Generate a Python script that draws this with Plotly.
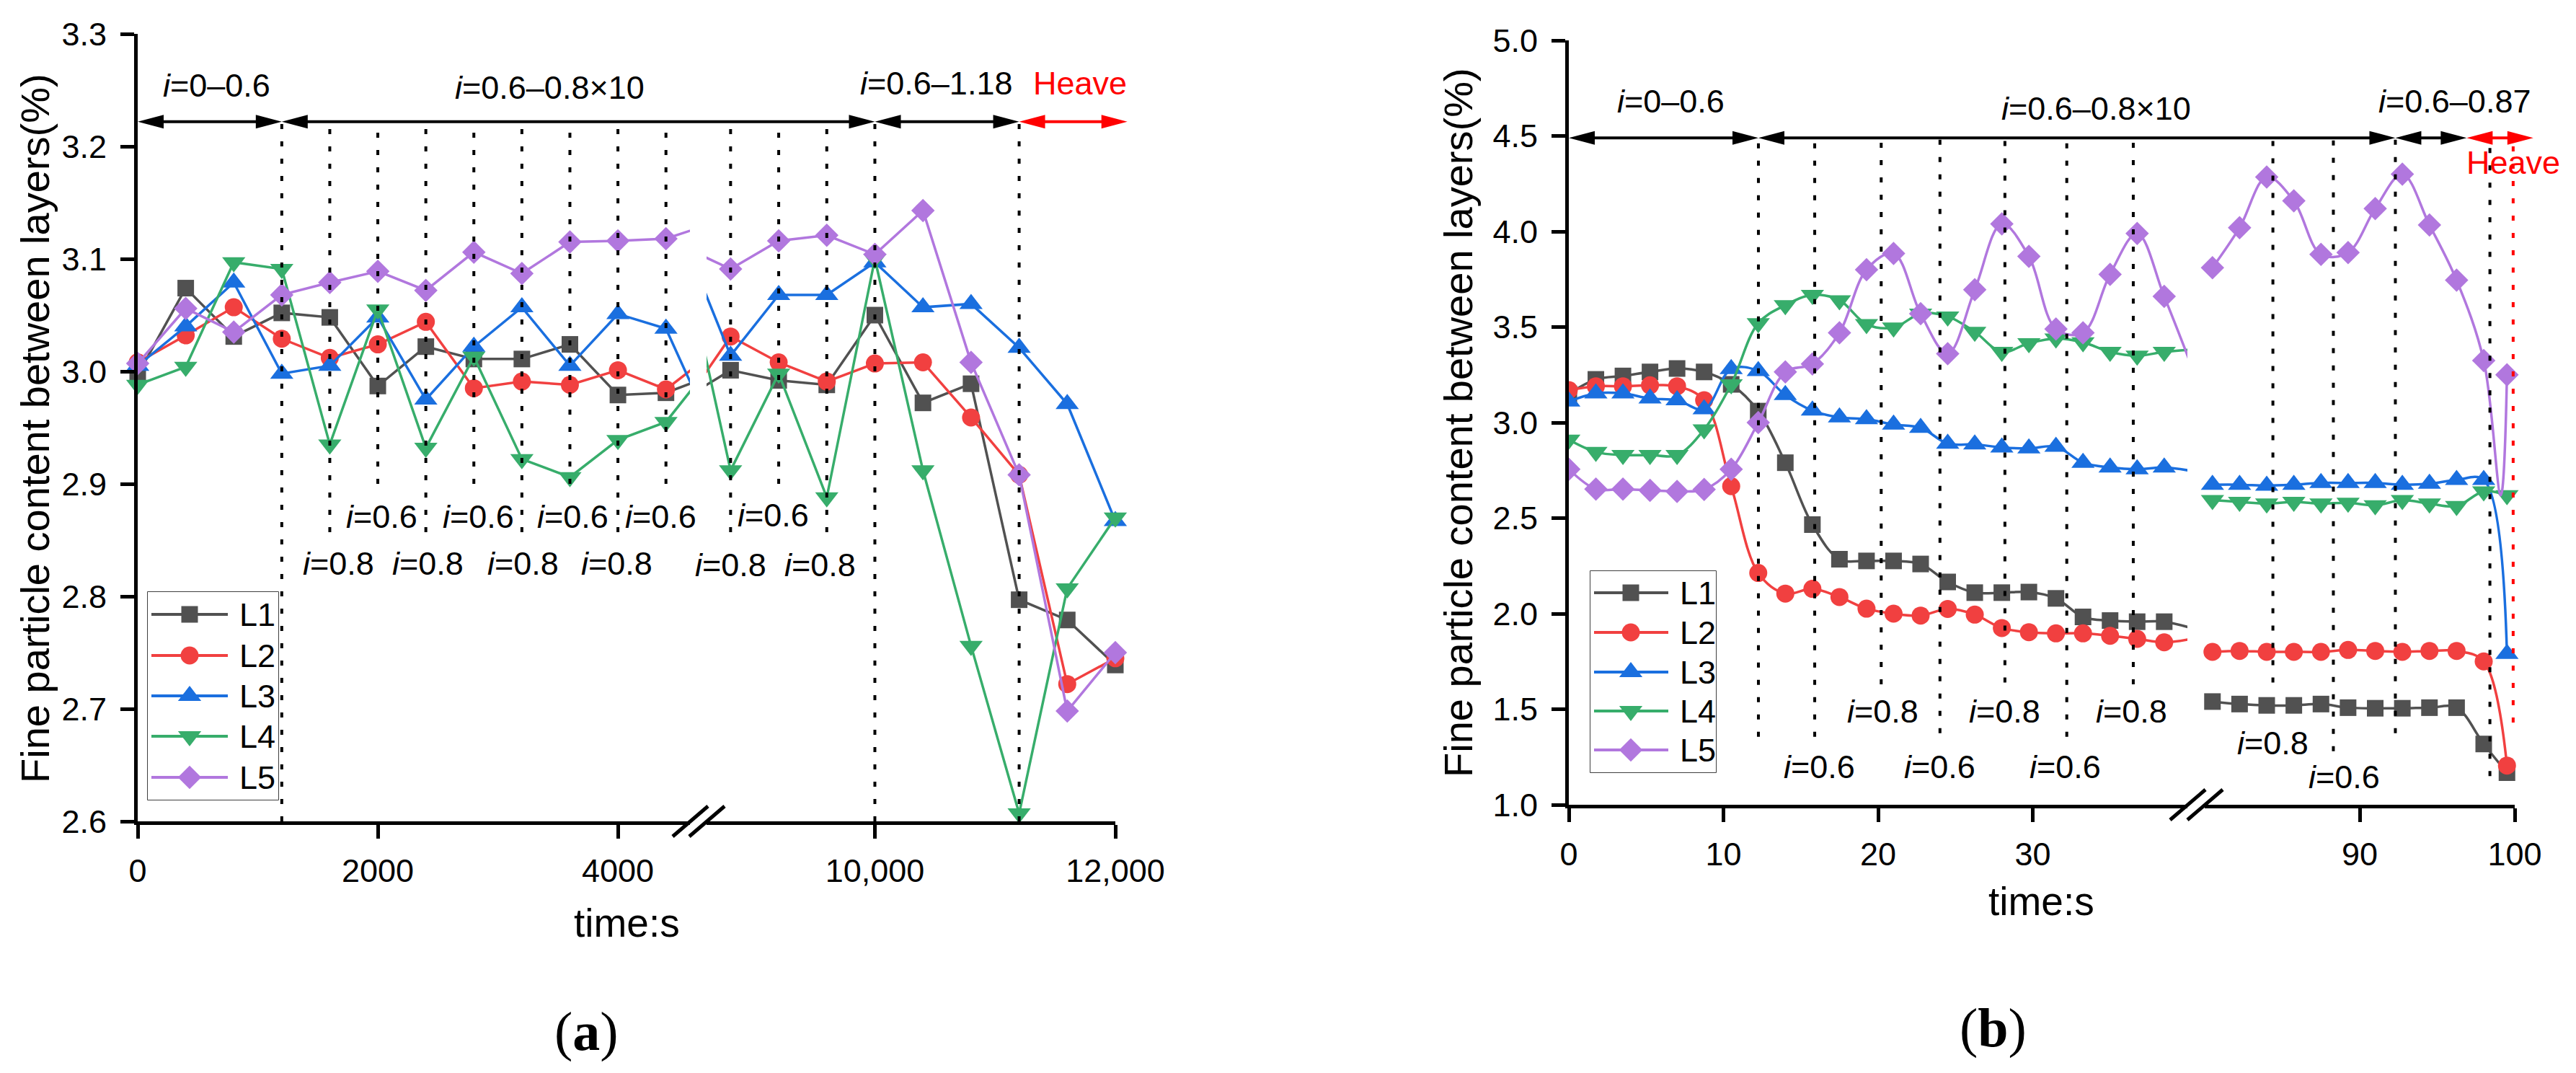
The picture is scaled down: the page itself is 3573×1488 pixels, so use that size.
import plotly.graph_objects as go

W, H = 3573, 1488

# ---------------- panel (a): time in s, broken axis 4600..8600 ----------------
# first/last entries of each segment sit outside the visible range (they only
# give the line stubs running into the axis break)
T_A_LEFT = [0, 400, 800, 1200, 1600, 2000, 2400, 2800, 3200, 3600, 4000, 4400, 4800]
T_A_RIGHT = [8400, 8800, 9200, 9600, 10000, 10400, 10800, 11200, 11600, 12000]

A_L1_LEFT = [2.997, 3.074, 3.031, 3.052, 3.048, 2.987, 3.022, 3.011, 3.011, 3.024, 2.979, 2.981, 2.997]
A_L2_LEFT = [3.008, 3.032, 3.057, 3.029, 3.012, 3.024, 3.044, 2.985, 2.991, 2.988, 3.001, 2.984, 3.017]
A_L3_LEFT = [3.005, 3.040, 3.079, 2.998, 3.005, 3.048, 2.975, 3.022, 3.057, 3.005, 3.051, 3.038, 2.944]
A_L4_LEFT = [2.988, 3.004, 3.097, 3.091, 2.935, 3.055, 2.932, 3.013, 2.922, 2.906, 2.939, 2.955, 3.009]
A_L5_LEFT = [3.007, 3.056, 3.035, 3.068, 3.079, 3.089, 3.072, 3.106, 3.087, 3.115, 3.116, 3.118, 3.132]

A_L1_RIGHT = [2.975, 3.001, 2.992, 2.988, 3.050, 2.972, 2.989, 2.797, 2.779, 2.739]
A_L2_RIGHT = [2.969, 3.031, 3.008, 2.991, 3.007, 3.008, 2.959, 2.908, 2.722, 2.745]
A_L3_RIGHT = [3.120, 3.014, 3.068, 3.068, 3.097, 3.057, 3.060, 3.021, 2.971, 2.867]
A_L4_RIGHT = [3.106, 2.912, 2.998, 2.888, 3.100, 2.912, 2.756, 2.607, 2.807, 2.870]
A_L5_RIGHT = [3.111, 3.091, 3.116, 3.121, 3.104, 3.143, 3.008, 2.908, 2.698, 2.750]

A_Y_TICKS = [2.6, 2.7, 2.8, 2.9, 3.0, 3.1, 3.2, 3.3]
A_X_LEFT_TICKS = [0, 2000, 4000]
A_X_LEFT_LABELS = ['0', '2000', '4000']
A_X_RIGHT_TICKS = [10000, 12000]
A_X_RIGHT_LABELS = ['10,000', '12,000']

# vertical dotted separators: time, lower end
A_DOT_LEFT_T = [1200, 1600, 2000, 2400, 2800, 3200, 3600, 4000, 4400]
A_DOT_LEFT_END = [2.6, 2.857, 2.90, 2.857, 2.90, 2.857, 2.90, 2.857, 2.90]
A_DOT_RIGHT_T = [8800, 9200, 9600, 10000, 11200]
A_DOT_RIGHT_END = [2.857, 2.90, 2.857, 2.6, 2.6]
A_ARROW_Y = 3.222

A_I06_LEFT_T = [2030, 2835, 3622, 4354]
A_I06_RIGHT_T = [9154]
A_I08_LEFT_T = [1670, 2420, 3207, 3988]
A_I08_RIGHT_T = [8800, 9544]

# ---------------- panel (b): time in s, broken axis 40..80 ----------------
T_B_LEFT = [0, 1.75, 3.5, 5.25, 7, 8.75, 10.5, 12.25, 14, 15.75, 17.5, 19.25,
            21, 22.75, 24.5, 26.25, 28, 29.75, 31.5, 33.25, 35, 36.75, 38.5, 40.25]
T_B_RIGHT = [80.5, 82.25, 84, 85.75, 87.5, 89.25, 91, 92.75, 94.5, 96.25, 98, 99.5]
T_B5_RIGHT = [80.5, 82.25, 84, 85.75, 87.5, 89.25, 91, 92.75, 94.5, 96.25, 98, 99.1, 99.5]

B_L1_LEFT = [3.15, 3.226, 3.244, 3.265, 3.283, 3.265, 3.20, 3.06, 2.79, 2.466, 2.285, 2.276,
             2.276, 2.26, 2.166, 2.11, 2.11, 2.113, 2.08, 1.983, 1.964, 1.958, 1.958, 1.925]
B_L2_LEFT = [3.17, 3.19, 3.19, 3.195, 3.19, 3.117, 2.667, 2.213, 2.105, 2.13, 2.087, 2.026,
             2.0, 1.99, 2.025, 1.995, 1.925, 1.903, 1.897, 1.897, 1.884, 1.868, 1.85, 1.868]
B_L3_LEFT = [3.11, 3.153, 3.153, 3.126, 3.117, 3.07, 3.28, 3.27, 3.144, 3.063, 3.027, 3.018,
             2.99, 2.973, 2.89, 2.886, 2.87, 2.865, 2.874, 2.79, 2.765, 2.756, 2.765, 2.747]
B_L4_LEFT = [2.91, 2.846, 2.83, 2.83, 2.83, 2.964, 3.2, 3.52, 3.614, 3.668, 3.64, 3.515,
             3.497, 3.57, 3.555, 3.475, 3.37, 3.415, 3.44, 3.42, 3.37, 3.35, 3.37, 3.382]
B_L5_LEFT = [2.756, 2.652, 2.652, 2.645, 2.64, 2.65, 2.756, 3.0, 3.265, 3.307, 3.47, 3.80,
             3.885, 3.57, 3.36, 3.695, 4.04, 3.87, 3.49, 3.47, 3.776, 3.99, 3.66, 3.30]

B_L1_RIGHT = [1.54, 1.527, 1.52, 1.52, 1.527, 1.508, 1.505, 1.505, 1.508, 1.508, 1.318, 1.168]
B_L2_RIGHT = [1.80, 1.805, 1.80, 1.80, 1.80, 1.81, 1.805, 1.80, 1.805, 1.805, 1.75, 1.205]
B_L3_RIGHT = [2.675, 2.675, 2.67, 2.675, 2.684, 2.684, 2.684, 2.675, 2.68, 2.70, 2.70, 1.79]
B_L4_RIGHT = [2.594, 2.585, 2.576, 2.585, 2.576, 2.58, 2.567, 2.594, 2.576, 2.563, 2.64, 2.62]
B_L5_RIGHT = [3.81, 4.02, 4.285, 4.16, 3.88, 3.89, 4.12, 4.30, 4.034, 3.745, 3.325, 2.62, 3.25]

B_Y_TICKS = [1.0, 1.5, 2.0, 2.5, 3.0, 3.5, 4.0, 4.5, 5.0]
B_X_LEFT_TICKS = [0, 10, 20, 30]
B_X_RIGHT_TICKS = [90, 100]

B_DOT_LEFT_T = [12.26, 15.9, 20.2, 24.0, 28.2, 32.2, 36.5]
B_DOT_LEFT_END = [1.356, 1.356, 1.63, 1.375, 1.64, 1.356, 1.63]
B_DOT_RIGHT_T = [84.4, 88.3, 92.3, 98.4]
B_DOT_RIGHT_END = [1.64, 1.28, 1.375, 1.15]
B_RED_DOT_T = 99.9
B_RED_DOT_END = 1.43
B_ARROW_Y = 4.49

B_I06_LEFT_T = [16.2, 24.0, 32.1]
B_I06_RIGHT_T = [89.0]
B_I08_LEFT_T = [20.3, 28.2, 36.4]
B_I08_RIGHT_T = [84.4]

NAMES = ['L1', 'L2', 'L3', 'L4', 'L5']
COLORS = {'L1': '#515151', 'L2': '#F14040', 'L3': '#1A6FDF', 'L4': '#37AD6B', 'L5': '#B177DE'}
SYMBOLS = {'L1': 'square', 'L2': 'circle', 'L3': 'triangle-up', 'L4': 'triangle-down', 'L5': 'diamond'}
MSIZE = {'L1': 23, 'L2': 25, 'L3': 28, 'L4': 28, 'L5': 25}

FONT = 'Liberation Sans, Arial, sans-serif'

# axis placement (pixels of the 3573x1488 page)
AX = {
    'x': dict(domain=[191 / W, 957 / W], range=[0, 4600]),
    'x2': dict(domain=[980 / W, 1547 / W], range=[8600, 12000]),
    'x3': dict(domain=[2176 / W, 3034 / W], range=[0, 40]),
    'x4': dict(domain=[3058 / W, 3488 / W], range=[80, 100]),
    'y': dict(domain=[1 - 1139 / H, 1 - 47 / H], range=[2.6, 3.30001]),
    'y2': dict(domain=[1 - 1116 / H, 1 - 56 / H], range=[1.0, 5.0001]),
}


def px(axis, t):
    d, r = AX[axis]['domain'], AX[axis]['range']
    return d[0] + (t - r[0]) / (r[1] - r[0]) * (d[1] - d[0])


def py(axis, v):
    d, r = AX[axis]['domain'], AX[axis]['range']
    return d[0] + (v - r[0]) / (r[1] - r[0]) * (d[1] - d[0])


fig = go.Figure()


def add_series(t, v, xa, ya, name, clip, spline, hidden):
    sizes = [0 if i in hidden else MSIZE[name] for i in range(len(t))]
    fig.add_trace(go.Scatter(
        x=t, y=v, xaxis=xa, yaxis=ya, mode='lines+markers', name=name,
        line=dict(color=COLORS[name], width=3.5, shape='spline' if spline else 'linear'),
        marker=dict(symbol=SYMBOLS[name], size=sizes, color=COLORS[name], opacity=1,
                    line=dict(width=0)),
        cliponaxis=clip, showlegend=False, hoverinfo='skip'))


a_left = [A_L1_LEFT, A_L2_LEFT, A_L3_LEFT, A_L4_LEFT, A_L5_LEFT]
a_right = [A_L1_RIGHT, A_L2_RIGHT, A_L3_RIGHT, A_L4_RIGHT, A_L5_RIGHT]
b_left = [B_L1_LEFT, B_L2_LEFT, B_L3_LEFT, B_L4_LEFT, B_L5_LEFT]
b_right = [B_L1_RIGHT, B_L2_RIGHT, B_L3_RIGHT, B_L4_RIGHT, B_L5_RIGHT]

for n, vl, vr in zip(NAMES, a_left, a_right):
    add_series(T_A_LEFT, vl, 'x', 'y', n, False, False, [len(T_A_LEFT) - 1])
    add_series(T_A_RIGHT, vr, 'x2', 'y', n, False, False, [0])

for n, vl, vr in zip(NAMES, b_left, b_right):
    add_series(T_B_LEFT, vl, 'x3', 'y2', n, True, True, [len(T_B_LEFT) - 1])
    if n == 'L5':
        add_series(T_B5_RIGHT, vr, 'x4', 'y2', n, False, True, [11])
    else:
        add_series(T_B_RIGHT, vr, 'x4', 'y2', n, False, True, [])

# ---------------- dotted separators ----------------
DOT = dict(color='black', width=4, dash='7px,17px')
for t, e in zip(A_DOT_LEFT_T, A_DOT_LEFT_END):
    fig.add_shape(type='line', xref='x', yref='y', x0=t, x1=t, y0=e, y1=A_ARROW_Y, line=DOT)
for t, e in zip(A_DOT_RIGHT_T, A_DOT_RIGHT_END):
    fig.add_shape(type='line', xref='x2', yref='y', x0=t, x1=t, y0=e, y1=A_ARROW_Y, line=DOT)
for t, e in zip(B_DOT_LEFT_T, B_DOT_LEFT_END):
    fig.add_shape(type='line', xref='x3', yref='y2', x0=t, x1=t, y0=e, y1=B_ARROW_Y, line=DOT)
for t, e in zip(B_DOT_RIGHT_T, B_DOT_RIGHT_END):
    fig.add_shape(type='line', xref='x4', yref='y2', x0=t, x1=t, y0=e, y1=B_ARROW_Y, line=DOT)
fig.add_shape(type='line', xref='x4', yref='y2', x0=B_RED_DOT_T, x1=B_RED_DOT_T,
              y0=B_RED_DOT_END, y1=B_ARROW_Y, line=dict(color='red', width=4, dash='7px,17px'))

# ---------------- double arrows ----------------
HEAD_LEN, HEAD_HALF = 36, 9.5


def add_arrow(xa1, t1, xa2, t2, ya, v, color):
    x1, x2, y = px(xa1, t1), px(xa2, t2), py(ya, v)
    hl, hh = HEAD_LEN / W, HEAD_HALF / H
    fig.add_shape(type='line', xref='paper', yref='paper', x0=x1 + hl / 2, x1=x2 - hl / 2,
                  y0=y, y1=y, line=dict(color=color, width=4))
    for tip, base in ((x1, x1 + hl), (x2, x2 - hl)):
        fig.add_shape(type='path', xref='paper', yref='paper',
                      path=f'M{tip},{y} L{base},{y + hh} L{base},{y - hh} Z',
                      fillcolor=color, line=dict(width=0))


add_arrow('x', 0, 'x', 1200, 'y', A_ARROW_Y, 'black')
add_arrow('x', 1200, 'x2', 10000, 'y', A_ARROW_Y, 'black')
add_arrow('x2', 10000, 'x2', 11200, 'y', A_ARROW_Y, 'black')
add_arrow('x2', 11200, 'x2', 12100, 'y', A_ARROW_Y, 'red')
add_arrow('x3', 0, 'x3', 12.26, 'y2', B_ARROW_Y, 'black')
add_arrow('x3', 12.26, 'x4', 92.3, 'y2', B_ARROW_Y, 'black')
add_arrow('x4', 92.3, 'x4', 96.9, 'y2', B_ARROW_Y, 'black')
add_arrow('x4', 96.9, 'x4', 101.2, 'y2', B_ARROW_Y, 'red')


# ---------------- axis break marks ----------------
def add_break(xl, xr, ya):
    y = AX[ya]['domain'][0]
    for xe in (AX[xl]['domain'][1], AX[xr]['domain'][0]):
        fig.add_shape(type='line', xref='paper', yref='paper', x0=xe - 24 / W, y0=y - 21 / H,
                      x1=xe + 25 / W, y1=y + 21 / H, line=dict(color='black', width=5))


add_break('x', 'x2', 'y')
add_break('x3', 'x4', 'y2')

# ---------------- text labels ----------------
ann = []


def label(text, xa, ya, t, v, color='black', size=45):
    ann.append(dict(text=text, xref=xa, yref=ya, x=t, y=v, showarrow=False,
                    xanchor='center', yanchor='middle', font=dict(size=size, color=color)))


I06, I08 = '<i>i</i>=0.6', '<i>i</i>=0.8'
label('<i>i</i>=0–0.6', 'x', 'y', 660, 3.254)
label('<i>i</i>=0.6–0.8×10', 'x', 'y', 3430, 3.252)
label('<i>i</i>=0.6–1.18', 'x2', 'y', 10510, 3.256)
label('Heave', 'x2', 'y', 11707, 3.256, color='red')
for t in A_I06_LEFT_T:
    label(I06, 'x', 'y', t, 2.871)
for t in A_I06_RIGHT_T:
    label(I06, 'x2', 'y', t, 2.872)
for t in A_I08_LEFT_T:
    label(I08, 'x', 'y', t, 2.829)
for t in A_I08_RIGHT_T:
    label(I08, 'x2', 'y', t, 2.828)

label('<i>i</i>=0–0.6', 'x3', 'y2', 6.6, 4.68)
label('<i>i</i>=0.6–0.8×10', 'x3', 'y2', 34.1, 4.645)
label('<i>i</i>=0.6–0.87', 'x4', 'y2', 96.1, 4.683)
label('Heave', 'x4', 'y2', 99.9, 4.36, color='red')
for t in B_I06_LEFT_T:
    label(I06, 'x3', 'y2', t, 1.198)
for t in B_I06_RIGHT_T:
    label(I06, 'x4', 'y2', t, 1.147)
for t in B_I08_LEFT_T:
    label(I08, 'x3', 'y2', t, 1.487)
for t in B_I08_RIGHT_T:
    label(I08, 'x4', 'y2', t, 1.322)

YTITLE = 'Fine particle content between layers(%)'
for x, y, txt, ang, size in ((48, 594, YTITLE, -90, 56), (2022, 586, YTITLE, -90, 56),
                             (869, 1280, 'time:s', 0, 55), (2831, 1250, 'time:s', 0, 55)):
    ann.append(dict(text=txt, xref='paper', yref='paper', x=x / W, y=1 - y / H, showarrow=False,
                    textangle=ang, xanchor='center', yanchor='middle', font=dict(size=size)))
for x, y, txt in ((813, 1430, '(<b>a</b>)'), (2764, 1425, '(<b>b</b>)')):
    ann.append(dict(text=txt, xref='paper', yref='paper', x=x / W, y=1 - y / H, showarrow=False,
                    xanchor='center', yanchor='middle',
                    font=dict(size=76, family='Liberation Serif, Times New Roman, serif')))

# ---------------- hand-built legends (box in page pixels) ----------------
LEGENDS = [
    dict(box=(205, 821, 386, 1109), rows=[31, 88, 144, 200, 257], line=(5, 111), mark=58, text=125,
         xa='x5', ya='y3'),
    dict(box=(2206, 792, 2380, 1071), rows=[30, 85, 140, 194, 248], line=(5, 108), mark=56, text=122,
         xa='x6', ya='y4'),
]
leg_axes = {}
for lg in LEGENDS:
    x0, y0, x1, y1 = lg['box']
    leg_axes[lg['xa']] = dict(domain=[x0 / W, x1 / W], range=[0, x1 - x0], visible=False,
                              anchor=lg['ya'], fixedrange=True, automargin=False)
    leg_axes[lg['ya']] = dict(domain=[1 - y1 / H, 1 - y0 / H], range=[y1 - y0, 0], visible=False,
                              anchor=lg['xa'], fixedrange=True, automargin=False)
    fig.add_shape(type='rect', xref=lg['xa'] + ' domain', yref=lg['ya'] + ' domain',
                  x0=0, x1=1, y0=0, y1=1, line=dict(color='black', width=1.5), layer='below')
    for n, r in zip(NAMES, lg['rows']):
        fig.add_trace(go.Scatter(
            x=[lg['line'][0], lg['mark'], lg['line'][1]], y=[r, r, r], xaxis=lg['xa'], yaxis=lg['ya'],
            mode='lines+markers', line=dict(color=COLORS[n], width=4),
            marker=dict(symbol=SYMBOLS[n], size=[0, MSIZE[n], 0], color=COLORS[n], opacity=1,
                        line=dict(width=0)),
            cliponaxis=False, showlegend=False, hoverinfo='skip'))
        ann.append(dict(text=n, xref=lg['xa'], yref=lg['ya'], x=lg['text'], y=r, showarrow=False,
                        xanchor='left', yanchor='middle', font=dict(size=45)))

# ---------------- axes ----------------
AXLINE = dict(showline=True, linewidth=5, linecolor='black', ticks='outside', tickwidth=5,
              tickcolor='black', ticklen=19, showgrid=False, zeroline=False, automargin=False,
              tickfont=dict(size=45, color='black'), fixedrange=True)

fig.update_layout(
    width=W, height=H, margin=dict(l=0, r=0, t=0, b=0, autoexpand=False),
    paper_bgcolor='white', plot_bgcolor='white',
    font=dict(family=FONT, size=45, color='black'),
    hovermode=False, showlegend=False,
    xaxis=dict(AX['x'], anchor='y', tickmode='array', tickvals=A_X_LEFT_TICKS,
               ticktext=A_X_LEFT_LABELS, ticklabelstandoff=6, **AXLINE),
    xaxis2=dict(AX['x2'], anchor='y', tickmode='array', tickvals=A_X_RIGHT_TICKS,
                ticktext=A_X_RIGHT_LABELS, ticklabelstandoff=6, **AXLINE),
    xaxis3=dict(AX['x3'], anchor='y2', tickmode='array', tickvals=B_X_LEFT_TICKS,
                ticklabelstandoff=6, **AXLINE),
    xaxis4=dict(AX['x4'], anchor='y2', tickmode='array', tickvals=B_X_RIGHT_TICKS,
                ticklabelstandoff=6, **AXLINE),
    yaxis=dict(AX['y'], anchor='x', tickmode='array', tickvals=A_Y_TICKS, tickformat='.1f',
               ticklabelstandoff=10, **AXLINE),
    yaxis2=dict(AX['y2'], anchor='x3', tickmode='array', tickvals=B_Y_TICKS, tickformat='.1f',
                ticklabelstandoff=10, **AXLINE),
    annotations=ann,
)
fig.update_layout(**{('xaxis' + k[1:]) if k.startswith('x') else ('yaxis' + k[1:]): v
                     for k, v in leg_axes.items()})

fig.write_html("out.html", config={'displayModeBar': False},
               post_script="document.body.style.margin='0px';")
